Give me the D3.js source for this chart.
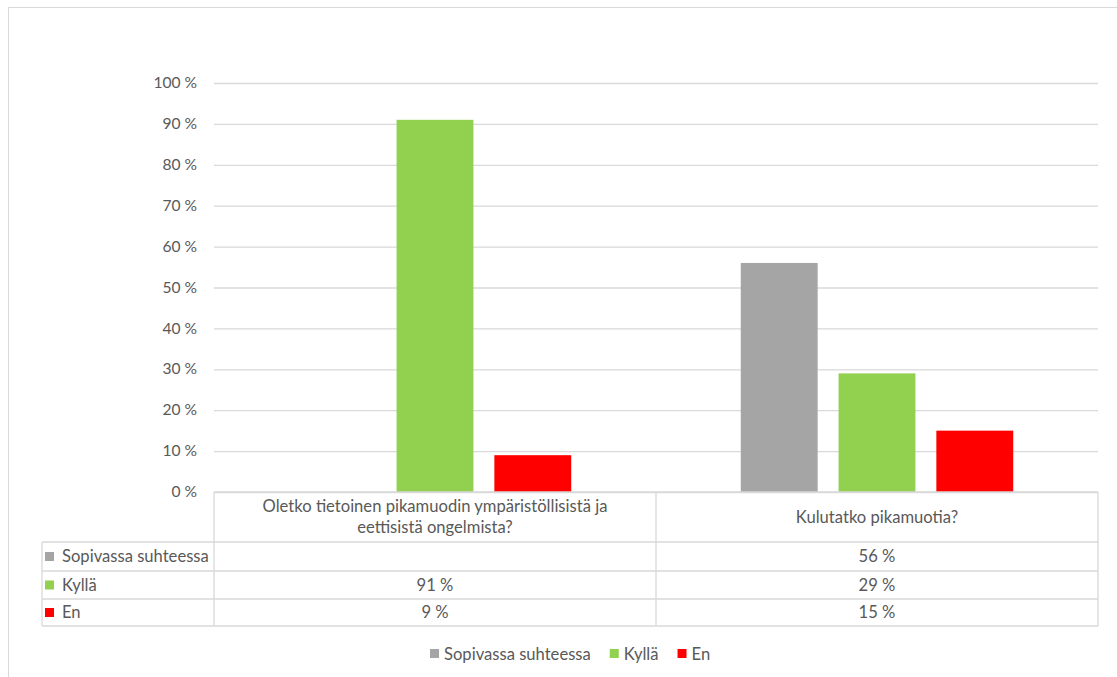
<!DOCTYPE html>
<html><head><meta charset="utf-8">
<script src="https://cdn.jsdelivr.net/npm/d3@7"></script>
<style>body{margin:0;background:#fff}svg{display:block}text{font-family:Lato,"Open Sans",sans-serif;fill:#595959}</style>
</head><body><svg id="c" width="1117" height="677"></svg>
<script>
const categories = ["Oletko tietoinen pikamuodin ympäristöllisistä ja eettisistä ongelmista?", "Kulutatko pikamuotia?"];
const categoryLines = [["Oletko tietoinen pikamuodin ympäristöllisistä ja", "eettisistä ongelmista?"], ["Kulutatko pikamuotia?"]];
const seriesNames = ["Sopivassa suhteessa", "Kyllä", "En"];
const sopivassa = [null, 56];
const kylla = [91, 29];
const en = [9, 15];
const tickValues = [0,10,20,30,40,50,60,70,80,90,100];
const colors = ["#a5a5a5", "#92d050", "#ff0000"];
const series = [sopivassa, kylla, en];

const FS = "16.6px";
const svg = d3.select("#c");
svg.append("rect").attr("x",8.5).attr("y",7.5).attr("width",1120).attr("height",700).attr("fill","none").attr("stroke","#d9d9d9");

const L=214, R=1098, T=83, B=492;
const y = d3.scaleLinear().domain([0,100]).range([B,T]);
const x0 = d3.scaleBand().domain(categories).range([L,R]);
const x1 = d3.scaleBand().domain(seriesNames).range([0,x0.bandwidth()]).paddingInner(0.214).paddingOuter(0.867);

// gridlines
const yAxis = d3.axisLeft(y).tickValues(tickValues).tickSize(-(R-L)).tickFormat(d=>d+" %");
const ga = svg.append("g").attr("transform",`translate(${L},0)`).call(yAxis);
ga.select(".domain").remove();
ga.selectAll(".tick line").attr("stroke","#d9d9d9").attr("stroke-width",1.3);
ga.selectAll(".tick text").attr("x",-17).attr("dy","0.3em").style("font-size","15.6px").attr("fill","#595959");

// bars
series.forEach((vals,si)=>{
  svg.append("g").selectAll("rect").data(vals.map((v,i)=>({v,c:categories[i]})).filter(d=>d.v!=null))
   .join("rect")
   .attr("x",d=>x0(d.c)+x1(seriesNames[si]))
   .attr("width",x1.bandwidth())
   .attr("y",d=>y(d.v))
   .attr("height",d=>B-y(d.v))
   .attr("fill",colors[si]);
});

// data table
const rowY = [B, 542, 571, 599, 626];
const tL = 42;
const gt = svg.append("g").attr("stroke","#d9d9d9").attr("stroke-width",1.3).attr("fill","none");
gt.append("line").attr("x1",L).attr("x2",R).attr("y1",B).attr("y2",B);
for(let r=1;r<rowY.length;r++) gt.append("line").attr("x1",tL).attr("x2",R).attr("y1",rowY[r]).attr("y2",rowY[r]);
gt.append("line").attr("x1",L).attr("x2",L).attr("y1",B).attr("y2",rowY[4]);
gt.append("line").attr("x1",tL).attr("x2",tL).attr("y1",rowY[1]).attr("y2",rowY[4]);
gt.append("line").attr("x1",x0(categories[1])).attr("x2",x0(categories[1])).attr("y1",B).attr("y2",rowY[4]);
gt.append("line").attr("x1",R).attr("x2",R).attr("y1",B).attr("y2",rowY[4]);

categories.forEach((c,i)=>{
  const cx = x0(c)+x0.bandwidth()/2;
  const lines = categoryLines[i];
  const midY = (rowY[0]+rowY[1])/2;
  lines.forEach((ln,j)=>{
    svg.append("text").attr("x",cx).attr("y",midY+(j-(lines.length-1)/2)*21+5.5)
      .attr("text-anchor","middle").style("font-size",FS).text(ln);
  });
  series.forEach((vals,si)=>{
    if(vals[i]==null) return;
    svg.append("text").attr("x",cx).attr("y",(rowY[si+1]+rowY[si+2])/2+5.5)
      .attr("text-anchor","middle").style("font-size",FS).text(vals[i]+" %");
  });
});
seriesNames.forEach((s,si)=>{
  const cy=(rowY[si+1]+rowY[si+2])/2;
  svg.append("rect").attr("x",45).attr("y",cy-4.5).attr("width",9).attr("height",9).attr("fill",colors[si]);
  svg.append("text").attr("x",62).attr("y",cy+5.5).style("font-size",FS).text(s);
});

// legend
const lg = svg.append("g");
let lx = 430; const ly = 654;
seriesNames.forEach((s,si)=>{
  lg.append("rect").attr("x",lx).attr("y",ly-5).attr("width",9).attr("height",9).attr("fill",colors[si]);
  const t = lg.append("text").attr("x",lx+14).attr("y",ly+5.5).style("font-size",FS).text(s);
  lx += 14 + t.node().getComputedTextLength() + 19;
});
</script></body></html>
